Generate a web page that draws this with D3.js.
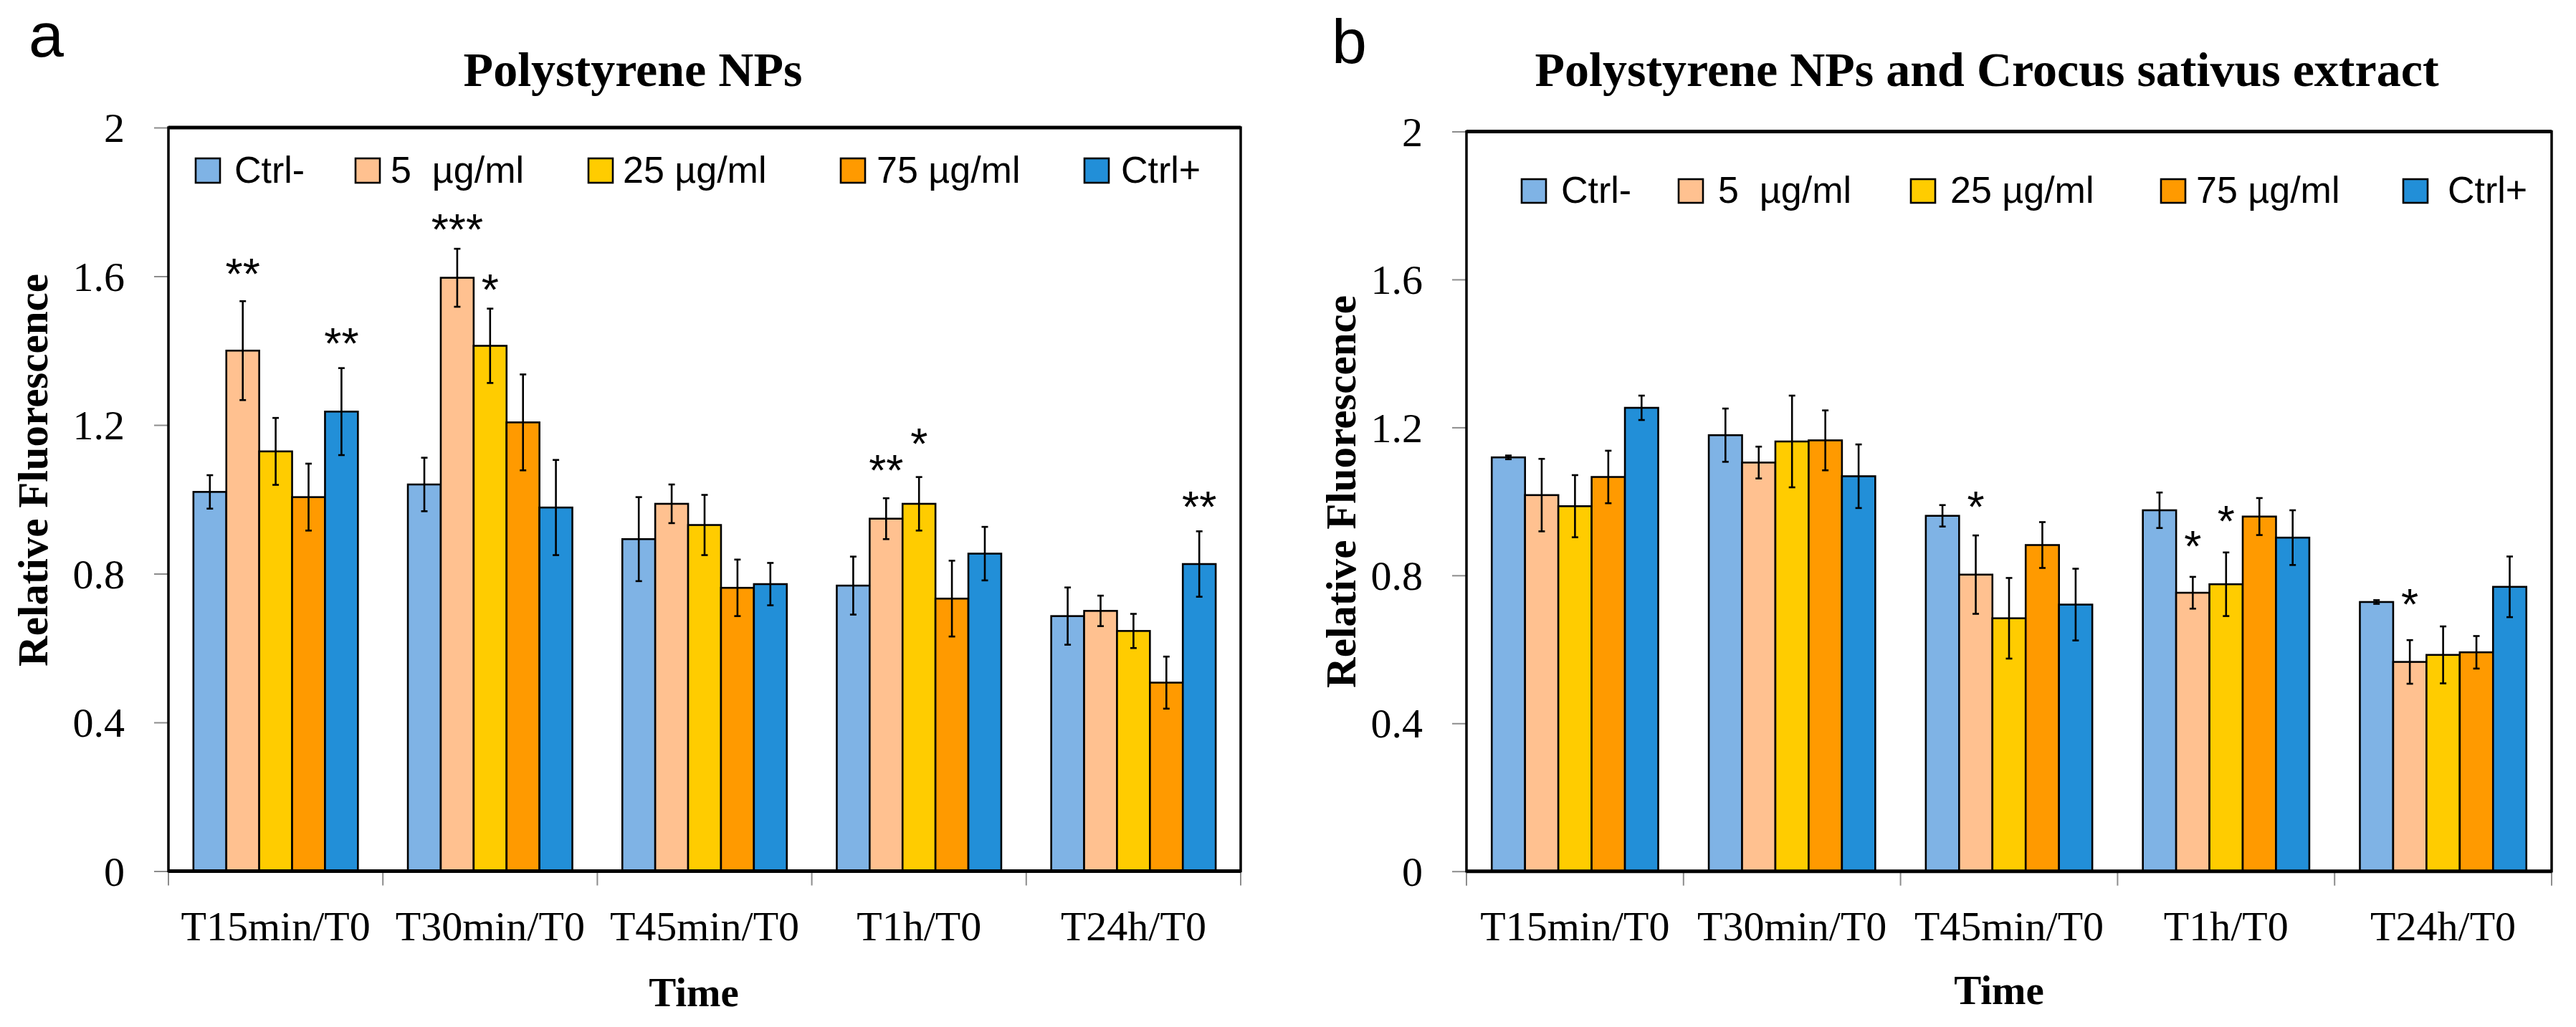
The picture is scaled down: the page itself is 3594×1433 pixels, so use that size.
<!DOCTYPE html>
<html>
<head>
<meta charset="utf-8">
<script src="https://cdn.jsdelivr.net/npm/d3@7"></script>
<style>
  html, body { margin: 0; padding: 0; background: #fff; }
  svg { display: block; }
  .leg text, .star { white-space: pre; }
</style>
</head>
<body>
<svg id="chart" width="3594" height="1433"></svg>
<script>
// ---------------- DATA ----------------
const categories = ["T15min/T0", "T30min/T0", "T45min/T0", "T1h/T0", "T24h/T0"];
const seriesNames = ["Ctrl-", "5  µg/ml", "25 µg/ml", "75 µg/ml", "Ctrl+"];
const seriesColors = ["#7fb3e5", "#ffc190", "#ffcc00", "#ff9a00", "#228fd8"];
const yTicks = [0, 0.4, 0.8, 1.2, 1.6, 2];

// Panel a: Polystyrene NPs
const aCtrlNeg = [1.020, 1.040, 0.893, 0.768, 0.686];
const a5 =       [1.400, 1.596, 0.988, 0.948, 0.700];
const a25 =      [1.129, 1.413, 0.931, 0.988, 0.646];
const a75 =      [1.006, 1.207, 0.762, 0.733, 0.507];
const aCtrlPos = [1.236, 0.978, 0.772, 0.854, 0.826];
const aErrCtrlNeg = [0.045, 0.072, 0.113, 0.078, 0.077];
const aErr5 =       [0.133, 0.078, 0.052, 0.055, 0.041];
const aErr25 =      [0.090, 0.100, 0.081, 0.072, 0.046];
const aErr75 =      [0.090, 0.129, 0.076, 0.102, 0.070];
const aErrCtrlPos = [0.117, 0.128, 0.057, 0.072, 0.088];
// significance marks: [category index, series index, label, value of mark centre]
const aStars = [[0, 1, "**", 1.633], [0, 4, "**", 1.446], [1, 1, "***", 1.754],
                [1, 2, "*", 1.592], [3, 1, "**", 1.106], [3, 2, "*", 1.177], [4, 4, "**", 1.007]];

// Panel b: Polystyrene NPs and Crocus sativus extract
const bCtrlNeg = [1.119, 1.179, 0.961, 0.976, 0.728];
const b5 =       [1.017, 1.105, 0.802, 0.753, 0.566];
const b25 =      [0.987, 1.162, 0.684, 0.776, 0.585];
const b75 =      [1.066, 1.165, 0.882, 0.959, 0.592];
const bCtrlPos = [1.253, 1.068, 0.721, 0.902, 0.769];
const bErrCtrlNeg = [0.005, 0.072, 0.029, 0.048, 0.005];
const bErr5 =       [0.098, 0.043, 0.106, 0.043, 0.059];
const bErr25 =      [0.084, 0.124, 0.109, 0.086, 0.077];
const bErr75 =      [0.071, 0.081, 0.062, 0.050, 0.044];
const bErrCtrlPos = [0.033, 0.086, 0.097, 0.074, 0.082];
const bStars = [[2, 1, "*", 1.012], [3, 1, "*", 0.906], [3, 2, "*", 0.975], [4, 1, "*", 0.750]];

// ---------------- LAYOUT ----------------
const SERIF = "'Liberation Serif', 'Times New Roman', serif";
const SANS = "'Liberation Sans', Arial, sans-serif";

const panels = [
  {
    letter: "a", letterX: 40, letterY: 79,
    title: "Polystyrene NPs", titleX: 883, titleY: 120,
    left: 235, right: 1731, yTop: 178, yZero: 1215.5,
    ylabX: 66, ylabY: 656,
    timeX: 968, timeY: 1404,
    legSwX: [273, 496, 821, 1173, 1513], legTxX: [327, 545, 869, 1223, 1564],
    legTop: 221, legBase: 255,
    vals: [aCtrlNeg, a5, a25, a75, aCtrlPos],
    errs: [aErrCtrlNeg, aErr5, aErr25, aErr75, aErrCtrlPos],
    stars: aStars
  },
  {
    letter: "b", letterX: 1858, letterY: 88,
    title: "Polystyrene NPs and Crocus sativus extract", titleX: 2772, titleY: 120,
    left: 2046, right: 3560, yTop: 183.5, yZero: 1215.7,
    ylabX: 1891, ylabY: 686,
    timeX: 2789, timeY: 1401,
    legSwX: [2123, 2342, 2666, 3015, 3353], legTxX: [2178, 2397, 2721, 3064, 3415],
    legTop: 250, legBase: 283,
    vals: [bCtrlNeg, b5, b25, b75, bCtrlPos],
    errs: [bErrCtrlNeg, bErr5, bErr25, bErr75, bErrCtrlPos],
    stars: bStars
  }
];

const svg = d3.select("#chart");

panels.forEach(p => {
  const g = svg.append("g");

  const x0 = d3.scaleBand().domain(categories).range([p.left, p.right]).padding(0);
  const bw = x0.bandwidth();
  const x1 = d3.scaleBand().domain(d3.range(seriesNames.length))
    .range([bw * 0.1165, bw * 0.8835]).padding(0);
  const y = d3.scaleLinear().domain([0, 2]).range([p.yZero, p.yTop]);

  // panel letter
  g.append("text").attr("x", p.letterX).attr("y", p.letterY)
    .attr("font-family", SANS).attr("font-size", 88).text(p.letter);

  // title
  g.append("text").attr("x", p.titleX).attr("y", p.titleY)
    .attr("text-anchor", "middle").attr("font-family", SERIF)
    .attr("font-weight", "bold").attr("font-size", 68).text(p.title);

  // y axis
  const yAxis = g.append("g").attr("transform", `translate(${p.left},0)`)
    .call(d3.axisLeft(y).tickValues(yTicks).tickSize(20).tickPadding(41).tickFormat(d => String(d)));
  yAxis.select(".domain").remove();
  yAxis.selectAll(".tick line").attr("stroke", "#8c8c8c").attr("stroke-width", 2);
  yAxis.selectAll(".tick text").attr("font-family", SERIF).attr("font-size", 58)
    .attr("fill", "#000").attr("dy", "0.34em");

  // x axis labels
  const xAxis = g.append("g").attr("transform", `translate(0,${p.yZero})`)
    .call(d3.axisBottom(x0).tickSize(0).tickPadding(0));
  xAxis.select(".domain").remove();
  xAxis.selectAll(".tick text").attr("font-family", SERIF).attr("font-size", 58)
    .attr("fill", "#000").attr("dy", "0").attr("y", 1312 - p.yZero);

  // x boundary ticks
  const bounds = categories.map(c => x0(c)).concat([p.right]);
  g.append("g").selectAll("line").data(bounds).join("line")
    .attr("x1", d => d).attr("x2", d => d)
    .attr("y1", p.yZero).attr("y2", p.yZero + 20)
    .attr("stroke", "#8c8c8c").attr("stroke-width", 2);

  // axis titles
  g.append("text").attr("transform", `translate(${p.ylabX},${p.ylabY}) rotate(-90)`)
    .attr("text-anchor", "middle").attr("font-family", SERIF).attr("font-weight", "bold")
    .attr("font-size", 59).text("Relative Fluorescence");
  g.append("text").attr("x", p.timeX).attr("y", p.timeY).attr("text-anchor", "middle")
    .attr("font-family", SERIF).attr("font-weight", "bold").attr("font-size", 57).text("Time");

  // plot frame
  g.append("rect").attr("x", p.left).attr("y", p.yTop)
    .attr("width", p.right - p.left).attr("height", p.yZero - p.yTop)
    .attr("fill", "none").attr("stroke", "#000").attr("stroke-width", 3.5);
  g.append("line").attr("x1", p.left).attr("x2", p.right).attr("y1", p.yTop).attr("y2", p.yTop)
    .attr("stroke", "#000").attr("stroke-width", 5);

  // bars
  const rows = [];
  categories.forEach((c, ci) => {
    seriesNames.forEach((s, si) => {
      rows.push({ c, ci, si, v: p.vals[si][ci], e: p.errs[si][ci] });
    });
  });
  const bars = g.append("g");
  bars.selectAll("rect").data(rows).join("rect")
    .attr("x", d => x0(d.c) + x1(d.si))
    .attr("width", x1.bandwidth())
    .attr("y", d => y(d.v))
    .attr("height", d => y(0) - y(d.v))
    .attr("fill", d => seriesColors[d.si])
    .attr("stroke", "#000").attr("stroke-width", 2.6);

  // zero line
  g.append("line").attr("x1", p.left).attr("x2", p.right).attr("y1", p.yZero).attr("y2", p.yZero)
    .attr("stroke", "#000").attr("stroke-width", 5);

  // error bars
  const eb = g.append("g").attr("stroke", "#000").attr("stroke-width", 2.6);
  rows.forEach(d => {
    const cx = x0(d.c) + x1(d.si) + x1.bandwidth() / 2;
    const yt = y(d.v + d.e), yb = y(d.v - d.e);
    eb.append("line").attr("x1", cx).attr("x2", cx).attr("y1", yt).attr("y2", yb);
    eb.append("line").attr("x1", cx - 4.5).attr("x2", cx + 4.5).attr("y1", yt).attr("y2", yt);
    eb.append("line").attr("x1", cx - 4.5).attr("x2", cx + 4.5).attr("y1", yb).attr("y2", yb);
  });

  // significance stars
  g.append("g").selectAll("text").data(p.stars).join("text")
    .attr("class", "star")
    .attr("x", d => x0(categories[d[0]]) + x1(d[1]) + x1.bandwidth() / 2)
    .attr("y", d => y(d[3]) + 35)
    .attr("text-anchor", "middle").attr("font-family", SANS).attr("font-size", 62)
    .text(d => d[2]);

  // legend
  const leg = g.append("g").attr("class", "leg");
  seriesNames.forEach((s, i) => {
    leg.append("rect").attr("x", p.legSwX[i]).attr("y", p.legTop)
      .attr("width", 34).attr("height", p.legBase - p.legTop)
      .attr("fill", seriesColors[i]).attr("stroke", "#000").attr("stroke-width", 2.6);
    leg.append("text").attr("x", p.legTxX[i]).attr("y", p.legBase)
      .attr("font-family", SANS).attr("font-size", 52).text(s);
  });
});
</script>
</body>
</html>
